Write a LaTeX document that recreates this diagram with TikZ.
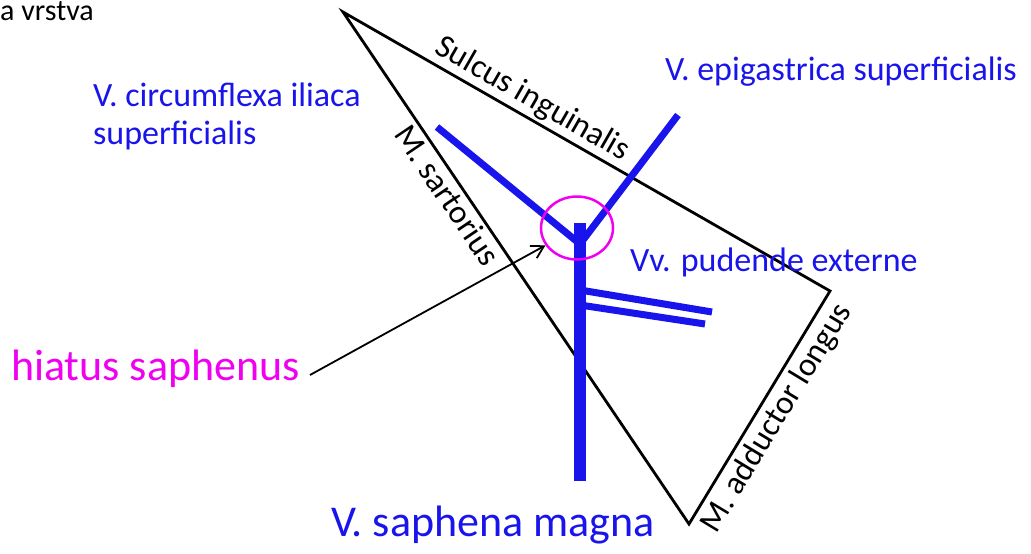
\documentclass[tikz,border=0pt]{standalone}
\usepackage{fontspec}
\setmainfont{Carlito}
\usetikzlibrary{calc, positioning, shapes, arrows.meta}

\definecolor{vblue}{RGB}{25,20,235}
\definecolor{hmagenta}{RGB}{240,0,240}
\tikzset{
  vein/.style={draw=vblue, line width=7pt},
  trunk/.style={draw=vblue, line width=12pt},
  veinlabel/.style={text=vblue, font=\fontsize{34}{38}\selectfont, inner sep=0pt},
  edgelabel/.style={font=\fontsize{33}{38}\selectfont, sloped, inner sep=4pt},
  biglabel/.style={font=\fontsize{44}{50}\selectfont, inner sep=0pt},
}

\begin{document}
\begin{tikzpicture}[x=1pt, y=-1pt, >={Straight Barb[length=12pt,width=14pt]}]
\useasboundingbox (0,0) rectangle (1031,554);

% --- corners of the triangle ---
\coordinate (top) at (343,12);
\coordinate (right) at (830,291);
\coordinate (bottom) at (689,524);

% --- triangle and its borders ---
\draw[line width=2.8pt, line join=miter] (top) -- (right) -- (bottom) -- cycle;
\path (top) -- node[edgelabel, above, pos=.37] {Sulcus inguinalis} (right);
\path (top) -- node[edgelabel, below, pos=.34] {M. sartorius} (bottom);
\path (bottom) -- node[edgelabel, below, pos=.50, inner sep=6pt] {M. adductor longus} (right);

% --- veins ---
\coordinate (trunktop) at (580,223);
\coordinate (trunkbot) at (580,481);
\coordinate (joint) at (580,244);
\coordinate (leftend) at (437,127);
\coordinate (rightend) at (678,115);
\coordinate (pudA) at (580,290);
\coordinate (pudAend) at (712,312);
\coordinate (pudB) at (580,305);
\coordinate (pudBend) at (705,324);

\draw[vein] (joint) -- (leftend);
\draw[vein] (joint) -- (rightend);
\draw[vein] (pudA) -- (pudAend);
\draw[vein] (pudB) -- (pudBend);
\draw[trunk] (trunktop) -- (trunkbot);

% --- hiatus ring ---
\node[draw=hmagenta, line width=2.5pt, ellipse, minimum width=72pt, minimum height=63pt, inner sep=0pt] (ring) at (577,228) {};

% --- labels ---
\node[font=\fontsize{30}{36}\selectfont, anchor=north west, inner sep=0pt] (layer) at (0,1) {a vrstva};
\node[veinlabel, anchor=west, align=left] (circumflexa) at (93,116) {V. circumflexa iliaca\\superficialis};
\node[veinlabel, anchor=west] (epigastrica) at (665,72) {V. epigastrica superficialis};
\node[veinlabel, anchor=west] (pudende) at (630,262) {Vv. pudende externe};
\node[biglabel, text=hmagenta, anchor=east] (hiatus) at (300,369) {hiatus saphenus};
\node[biglabel, text=vblue] (saphena) at (493,525) {V. saphena magna};

\draw[->, line width=1.8pt] ([shift={(10,6)}]hiatus.east) -- (ring);

\end{tikzpicture}
\end{document}
